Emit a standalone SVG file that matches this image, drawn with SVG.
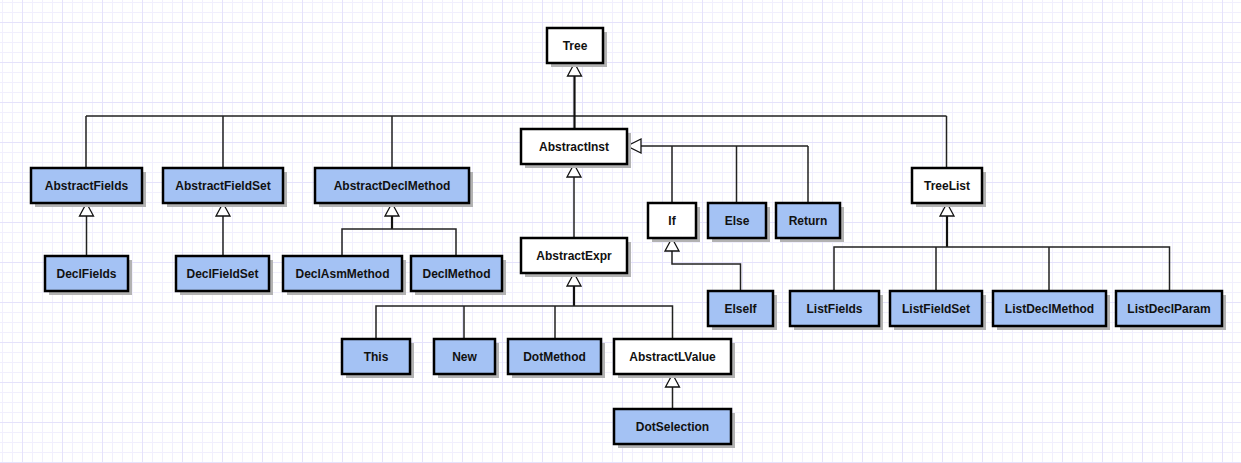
<svg xmlns="http://www.w3.org/2000/svg" width="1241" height="463" viewBox="0 0 1241 463">
<defs>
<pattern id="minor" width="10" height="10" patternUnits="userSpaceOnUse" x="2" y="2">
<path d="M0.5 0V10M0 0.5H10" stroke="#f1effd" stroke-width="1" fill="none"/>
</pattern>
<pattern id="major" width="40" height="40" patternUnits="userSpaceOnUse" x="22" y="22">
<path d="M0.5 0V40M0 0.5H40" stroke="#e5e2fb" stroke-width="1" fill="none"/>
</pattern>
</defs>
<style>
.box{stroke:#000;stroke-width:2.5}
.w{fill:#fff}
.b{fill:#a4c2f4}
.sh{fill:#b3b3b3}
.t{font-family:"Liberation Sans",Arial,sans-serif;font-size:12px;font-weight:bold;fill:#111;text-anchor:middle;dominant-baseline:central}
.c{stroke:#222;stroke-width:1.5;fill:none}
.k{stroke:#111;stroke-width:2.2;fill:none}
.tr{fill:#fff;stroke:#111;stroke-width:1.3}
</style>
<rect width="1241" height="463" fill="#fff"/>
<rect width="1241" height="463" fill="url(#minor)"/>
<rect width="1241" height="463" fill="url(#major)"/>

<g id="connectors">
<path class="c" d="M86 116H946.5M86 116V168M223 116V168M392 116V168M946.5 116V168"/>
<path class="k" d="M574.5 76V129"/>
<polygon class="tr" points="574.5,63 567.5,76 581.5,76"/>
<path class="c" d="M86.5 216V256"/>
<polygon class="tr" points="86.5,203 79.5,216 93.5,216"/>
<path class="c" d="M223 216V256"/>
<polygon class="tr" points="223,203 216,216 230,216"/>
<path class="k" d="M392 216V229"/>
<path class="c" d="M342 256V229H456V256"/>
<polygon class="tr" points="392,203 385,216 399,216"/>
<path class="c" d="M641 146H808M672 146V203M736.5 146V203M808 146V203"/>
<polygon class="tr" points="627,146 641,139 641,153"/>
<path class="c" d="M574 177V238"/>
<polygon class="tr" points="574,164 567,177 581,177"/>
<path class="k" d="M574 286V306"/>
<path class="c" d="M376 339V306H672.5V339M464 306V339M555 306V339"/>
<polygon class="tr" points="574,273 567,286 581,286"/>
<path class="c" d="M672.5 387V409"/>
<polygon class="tr" points="672.5,374 665.5,387 679.5,387"/>
<path class="c" d="M672 251V264H740.5V291"/>
<polygon class="tr" points="672,238 665,251 679,251"/>
<path class="k" d="M947 216V247"/>
<path class="c" d="M834 291V247H1169.5V291M936 247V291M1049 247V291"/>
<polygon class="tr" points="947,203 940,216 954,216"/>
</g>

<g id="Tree"><rect class="sh" x="551" y="32" width="56" height="35"/><rect class="box w" x="547" y="28" width="56" height="35"/><text class="t" x="575" y="45.5">Tree</text></g>
<g id="AbstractInst"><rect class="sh" x="525" y="133" width="106" height="35"/><rect class="box w" x="521" y="129" width="106" height="35"/><text class="t" x="574" y="146.5">AbstractInst</text></g>
<g id="AbstractFields"><rect class="sh" x="35" y="172" width="111" height="35"/><rect class="box b" x="31" y="168" width="111" height="35"/><text class="t" x="86.5" y="185.5">AbstractFields</text></g>
<g id="AbstractFieldSet"><rect class="sh" x="167" y="172" width="120" height="35"/><rect class="box b" x="163" y="168" width="120" height="35"/><text class="t" x="223" y="185.5">AbstractFieldSet</text></g>
<g id="AbstractDeclMethod"><rect class="sh" x="319" y="172" width="154" height="35"/><rect class="box b" x="315" y="168" width="154" height="35"/><text class="t" x="392" y="185.5">AbstractDeclMethod</text></g>
<g id="TreeList"><rect class="sh" x="916" y="172" width="70" height="35"/><rect class="box w" x="912" y="168" width="70" height="35"/><text class="t" x="947" y="185.5">TreeList</text></g>
<g id="If"><rect class="sh" x="652" y="207" width="48" height="35"/><rect class="box w" x="648" y="203" width="48" height="35"/><text class="t" x="672" y="220.5">If</text></g>
<g id="Else"><rect class="sh" x="712" y="207" width="58" height="35"/><rect class="box b" x="708" y="203" width="58" height="35"/><text class="t" x="737" y="220.5">Else</text></g>
<g id="Return"><rect class="sh" x="780" y="207" width="64" height="35"/><rect class="box b" x="776" y="203" width="64" height="35"/><text class="t" x="808" y="220.5">Return</text></g>
<g id="AbstractExpr"><rect class="sh" x="525" y="242" width="106" height="35"/><rect class="box w" x="521" y="238" width="106" height="35"/><text class="t" x="574" y="255.5">AbstractExpr</text></g>
<g id="DeclFields"><rect class="sh" x="49" y="260" width="83" height="35"/><rect class="box b" x="45" y="256" width="83" height="35"/><text class="t" x="86.5" y="273.5">DeclFields</text></g>
<g id="DeclFieldSet"><rect class="sh" x="180" y="260" width="93" height="35"/><rect class="box b" x="176" y="256" width="93" height="35"/><text class="t" x="222.5" y="273.5">DeclFieldSet</text></g>
<g id="DeclAsmMethod"><rect class="sh" x="287" y="260" width="119" height="35"/><rect class="box b" x="283" y="256" width="119" height="35"/><text class="t" x="342.5" y="273.5">DeclAsmMethod</text></g>
<g id="DeclMethod"><rect class="sh" x="415" y="260" width="91" height="35"/><rect class="box b" x="411" y="256" width="91" height="35"/><text class="t" x="456.5" y="273.5">DeclMethod</text></g>
<g id="ElseIf"><rect class="sh" x="712" y="295" width="65" height="35"/><rect class="box b" x="708" y="291" width="65" height="35"/><text class="t" x="740.5" y="308.5">ElseIf</text></g>
<g id="ListFields"><rect class="sh" x="794" y="295" width="89" height="35"/><rect class="box b" x="790" y="291" width="89" height="35"/><text class="t" x="834.5" y="308.5">ListFields</text></g>
<g id="ListFieldSet"><rect class="sh" x="894" y="295" width="92" height="35"/><rect class="box b" x="890" y="291" width="92" height="35"/><text class="t" x="936" y="308.5">ListFieldSet</text></g>
<g id="ListDeclMethod"><rect class="sh" x="997" y="295" width="113" height="35"/><rect class="box b" x="993" y="291" width="113" height="35"/><text class="t" x="1049.5" y="308.5">ListDeclMethod</text></g>
<g id="ListDeclParam"><rect class="sh" x="1120" y="295" width="106" height="35"/><rect class="box b" x="1116" y="291" width="106" height="35"/><text class="t" x="1169" y="308.5">ListDeclParam</text></g>
<g id="This"><rect class="sh" x="346" y="343" width="68" height="35"/><rect class="box b" x="342" y="339" width="68" height="35"/><text class="t" x="376" y="356.5">This</text></g>
<g id="New"><rect class="sh" x="438" y="343" width="61" height="35"/><rect class="box b" x="434" y="339" width="61" height="35"/><text class="t" x="464.5" y="356.5">New</text></g>
<g id="DotMethod"><rect class="sh" x="512" y="343" width="93" height="35"/><rect class="box b" x="508" y="339" width="93" height="35"/><text class="t" x="554.5" y="356.5">DotMethod</text></g>
<g id="AbstractLValue"><rect class="sh" x="618" y="343" width="117" height="35"/><rect class="box w" x="614" y="339" width="117" height="35"/><text class="t" x="672.5" y="356.5">AbstractLValue</text></g>
<g id="DotSelection"><rect class="sh" x="618" y="413" width="117" height="35"/><rect class="box b" x="614" y="409" width="117" height="35"/><text class="t" x="672.5" y="426.5">DotSelection</text></g>
</svg>
